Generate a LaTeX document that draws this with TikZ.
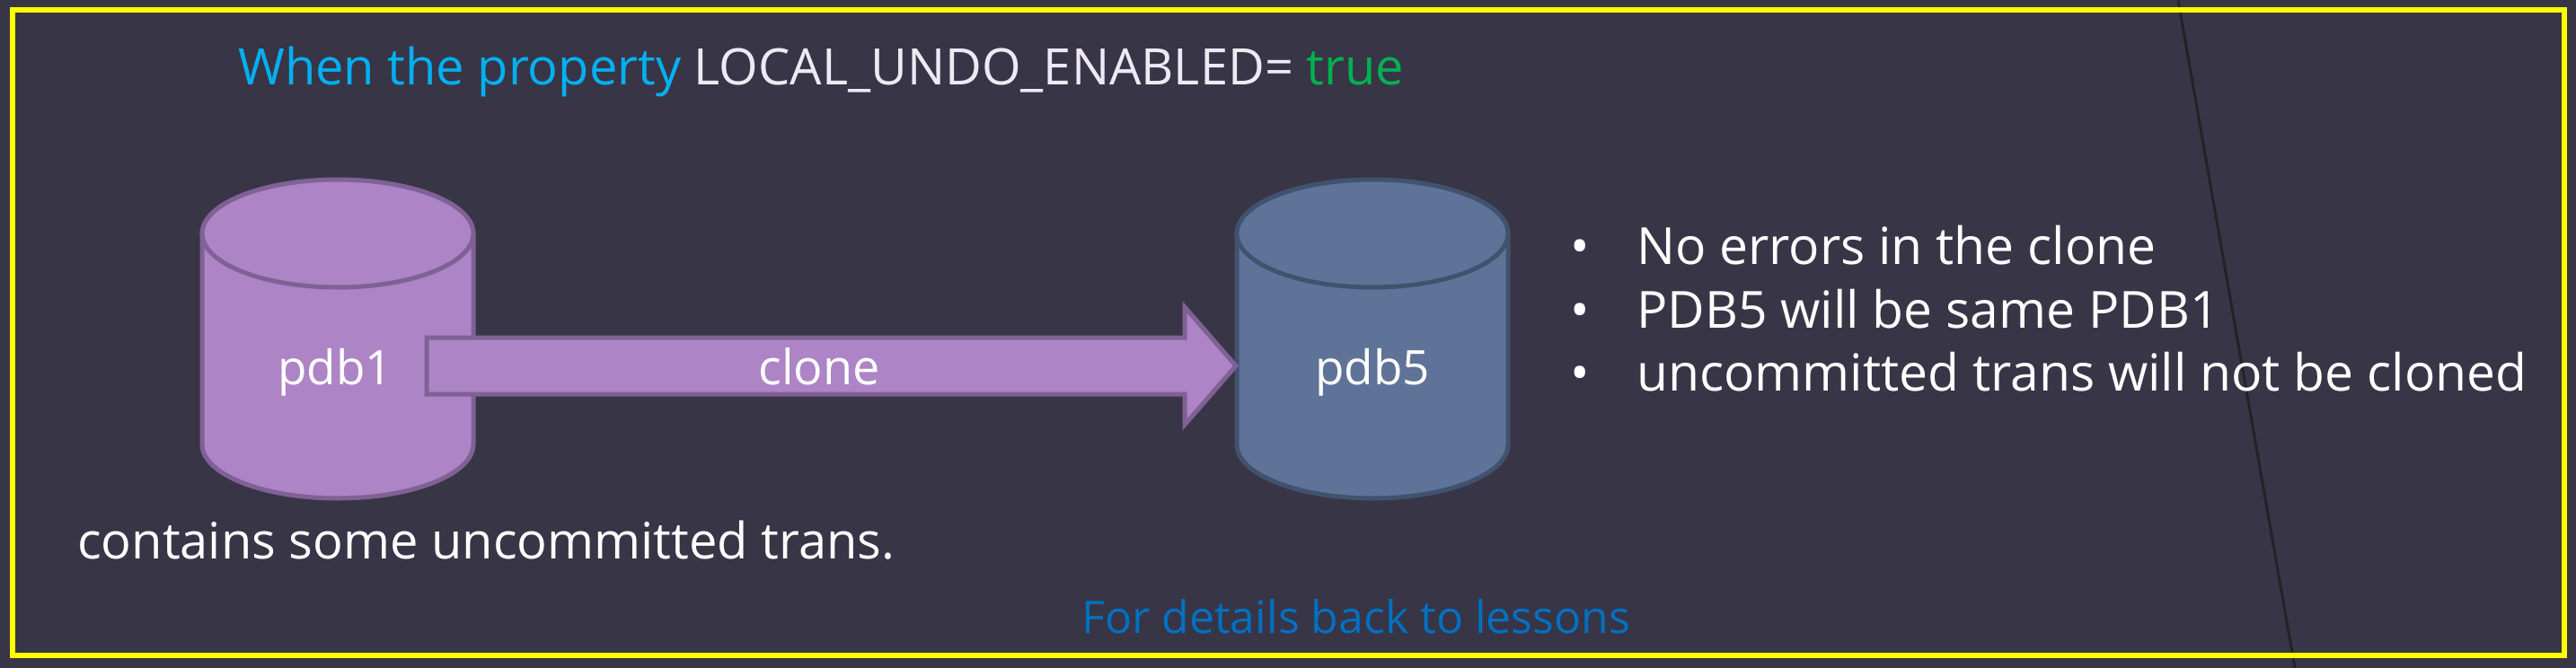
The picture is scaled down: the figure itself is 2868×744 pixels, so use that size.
\documentclass[tikz,border=0pt]{standalone}
\usepackage{fontspec}
\setmainfont{Open Sans}
\definecolor{bg}{HTML}{383546}
\definecolor{pfill}{HTML}{AD84C6}
\definecolor{pline}{HTML}{7F6196}
\definecolor{bfill}{HTML}{5F7399}
\definecolor{bline}{HTML}{41526E}
\definecolor{titlecyan}{HTML}{00B0F0}
\definecolor{offwhite}{HTML}{EEEAF4}
\definecolor{truegreen}{HTML}{00B050}
\definecolor{linkblue}{HTML}{0070C0}
\definecolor{frameyellow}{HTML}{FFFF00}
\definecolor{slash}{HTML}{232326}
\tikzset{
  txt/.style={text=white, inner sep=0pt, font=\fontsize{57}{68}\selectfont},
  lbl/.style={text=white, inner sep=0pt, font=\fontsize{53}{64}\selectfont},
  purplecyl/.style={fill=pfill, draw=pline, line width=5pt},
  bluecyl/.style={fill=bfill, draw=bline, line width=5pt},
  blockarrow/.style={fill=pfill, draw=pline, line width=5pt, line join=miter},
}
\begin{document}
\begin{tikzpicture}[x=1pt,y=-1pt]
\fill[bg] (0,0) rectangle (2868,744);
\useasboundingbox (0,0) rectangle (2868,744);
% diagonal line
\draw[slash, line width=3pt] (2425,0) -- (2555,744);
% frame
\draw[frameyellow, line width=6pt] (14,11) rectangle (2855,730);
% title
\node[anchor=base west, inner sep=0pt, font=\fontsize{56}{66}\selectfont] (title) at (265,94)
  {\textcolor{titlecyan}{When the property} \textcolor{offwhite}{LOCAL\_UNDO\_ENABLED=} \textcolor{truegreen}{true}};
% cylinder pdb1
\path[purplecyl] (225,260) -- (225,495) arc[start angle=180, end angle=0, x radius=151, y radius=60] -- (527,260) -- cycle;
\path[purplecyl] (376,260) ellipse[x radius=151, y radius=60];
% cylinder pdb5
\path[bluecyl] (1377,260) -- (1377,495) arc[start angle=180, end angle=0, x radius=151, y radius=60] -- (1679,260) -- cycle;
\path[bluecyl] (1528,260) ellipse[x radius=151, y radius=60];
% labels
\node[lbl, anchor=base] (pdb1) at (373,428) {pdb1};
\node[lbl, anchor=base] (pdb5) at (1528,428) {pdb5};
% block arrow
\coordinate (tail) at (475,407.5);
\coordinate (tip) at (1376,407.5);
\path[blockarrow] (tail) ++(0,-31.5) -- (1319,376) -- (1319,342) -- (tip) -- (1319,473) -- (1319,439) -- (475,439) -- cycle;
\node[lbl, anchor=base, font=\fontsize{54}{64}\selectfont] (clone) at (912,428) {clone};
% bullets
\node[txt, anchor=base] (b1) at (1759,294) {•};
\node[txt, anchor=base] (b2) at (1759,365) {•};
\node[txt, anchor=base] (b3) at (1759,435) {•};
\node[txt, anchor=base west] (t1) at (1822,294) {No errors in the clone};
\node[txt, anchor=base west] (t2) at (1822,365) {PDB5 will be same PDB1};
\node[txt, anchor=base west] (t3) at (1822,435) {uncommitted trans will not be cloned};
% note
\node[txt, anchor=base west, font=\fontsize{56}{66}\selectfont] (note) at (86,622) {contains some uncommitted trans.};
% footer
\node[anchor=base west, inner sep=0pt, text=linkblue, font=\fontsize{50}{60}\selectfont] (footer) at (1204,705) {For details back to lessons};
\end{tikzpicture}
\end{document}
